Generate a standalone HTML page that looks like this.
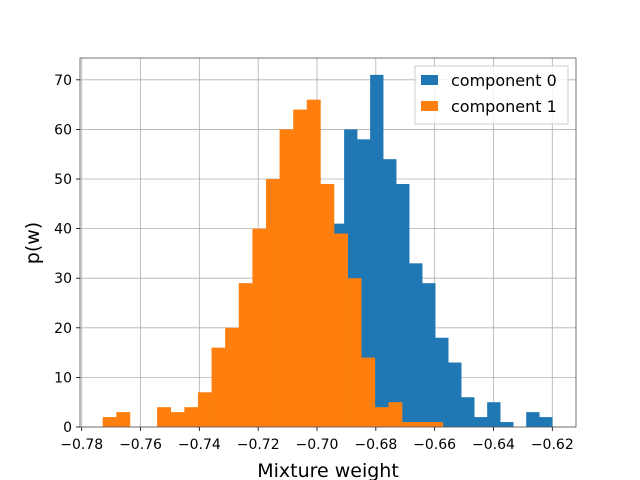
<!DOCTYPE html>
<html><head><meta charset="utf-8"><style>
body{margin:0;background:#fff;}
svg{display:block;font-family:"DejaVu Sans","Liberation Sans",sans-serif;}
</style></head><body>
<svg id="chart" width="640" height="480">
<rect x="0" y="0" width="640" height="480" fill="#fff"/>
<g id="grid"></g>
<g id="bars"></g>
<g id="axes"></g>
<text x="328" y="477" font-size="19" text-anchor="middle">Mixture weight</text>
<text transform="translate(39,243) rotate(-90)" font-size="19" text-anchor="middle">p(w)</text>
<g>
<rect x="415" y="66" width="153" height="58" fill="#fff" fill-opacity="0.8" stroke="#ccc"/>
<rect x="421" y="75" width="17" height="10" fill="#1f77b4"/>
<text x="451" y="86" font-size="16">component 0</text>
<rect x="421" y="101" width="17" height="10" fill="#ff7f0e"/>
<text x="451" y="112" font-size="16">component 1</text>
</g>
</svg>
<script>
const xTicks=[-0.78,-0.76,-0.74,-0.72,-0.70,-0.68,-0.66,-0.64,-0.62];
const yTicks=[0,10,20,30,40,50,60,70];
const blueStart=-0.6952;
const blueWidth=0.004422;
const blueCounts=[41,60,58,71,54,49,33,29,18,13,6,2,5,1,0,3,2];
const orangeStart=-0.77286;
const orangeWidth=0.004626;
const orangeCounts=[2,3,0,0,4,3,4,7,16,20,29,40,50,60,64,66,49,39,30,14,4,5,1,1,1];

const L=80,R=576,T=58,B=427;
const xMin=-0.78058,xMax=-0.61194,yMin=0,yMax=74.4;
const X=v=>L+(v-xMin)/(xMax-xMin)*(R-L);
const Y=v=>B-(v-yMin)/(yMax-yMin)*(B-T);
const NS="http://www.w3.org/2000/svg";
function mk(tag,attrs,parent){const e=document.createElementNS(NS,tag);for(const k in attrs)e.setAttribute(k,attrs[k]);parent.appendChild(e);return e;}
const grid=document.getElementById('grid'),bars=document.getElementById('bars'),axes=document.getElementById('axes');
xTicks.forEach(t=>{
 const l=mk('line',{x1:X(t),x2:X(t),y1:T,y2:B,stroke:'#b0b0b0','stroke-width':0.8},grid);
 
 
});
yTicks.forEach(t=>{
 const l=mk('line',{x1:L,x2:R,y1:Y(t),y2:Y(t),stroke:'#b0b0b0','stroke-width':0.8},grid);
 
 
});
blueCounts.forEach((c,i)=>{
 if(!c)return;
 const x0=X(blueStart+i*blueWidth),x1=X(blueStart+(i+1)*blueWidth);
 const r=mk('rect',{x:x0,y:Y(c),width:x1-x0+0.3,height:B-Y(c),fill:'#1f77b4'},bars);
 
 
});
orangeCounts.forEach((c,i)=>{
 if(!c)return;
 const x0=X(orangeStart+i*orangeWidth),x1=X(orangeStart+(i+1)*orangeWidth);
 const r=mk('rect',{x:x0,y:Y(c),width:x1-x0+0.3,height:B-Y(c),fill:'#ff7f0e'},bars);
 
 
});
const frame=mk('rect',{x:L,y:T,width:R-L,height:B-T,fill:'none',stroke:'#555','stroke-width':0.8},axes);


xTicks.forEach(t=>{
 mk('line',{x1:X(t),x2:X(t),y1:B,y2:B+4,stroke:'#000','stroke-width':0.8},axes);
 const tx=mk('text',{x:X(t),y:B+22,'font-size':14,'text-anchor':'middle'},axes);
 tx.textContent=(t<0?'\u2212':'')+Math.abs(t).toFixed(2);
 
 
});
yTicks.forEach(t=>{
 mk('line',{x1:L-4,x2:L,y1:Y(t),y2:Y(t),stroke:'#000','stroke-width':0.8},axes);
 const tx=mk('text',{x:L-8,y:Y(t)+5,'font-size':14,'text-anchor':'end'},axes);
 tx.textContent=String(t);
 
 
});
</script>
</body></html>
